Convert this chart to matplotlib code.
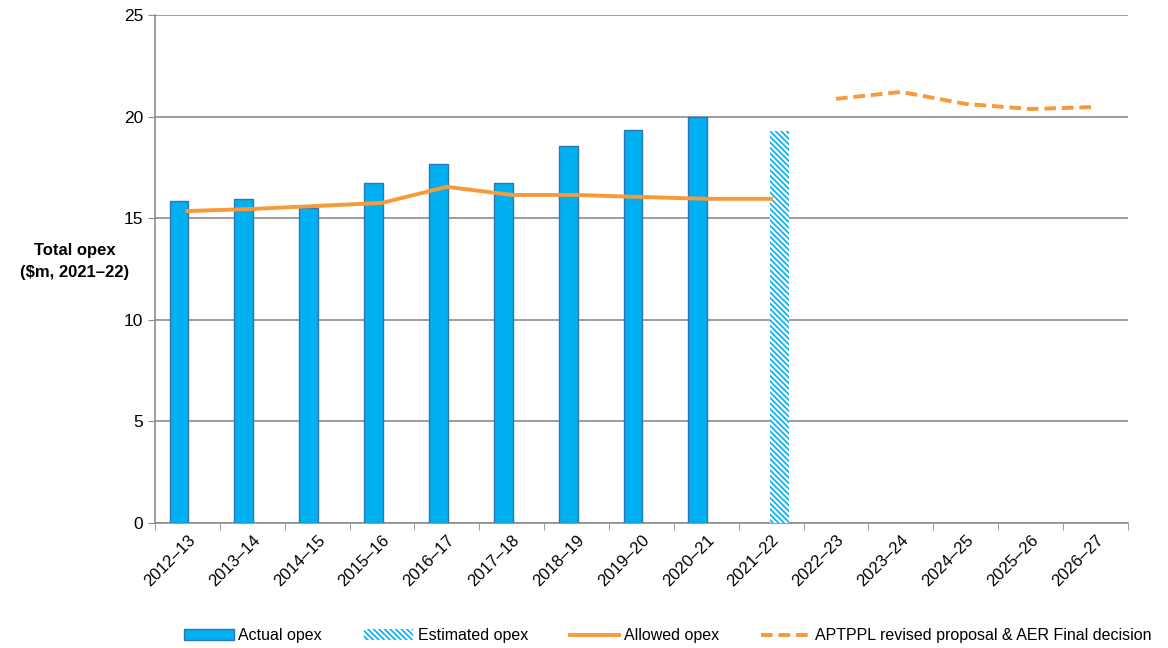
import matplotlib.pyplot as plt
import numpy as np

plt.rcParams['font.family'] = ['Liberation Sans', 'DejaVu Sans']
plt.rcParams['hatch.linewidth'] = 1.2

years = ['2012–13', '2013–14', '2014–15', '2015–16', '2016–17', '2017–18', '2018–19',
         '2019–20', '2020–21', '2021–22', '2022–23', '2023–24', '2024–25', '2025–26', '2026–27']
actual = [15.85, 15.95, 15.5, 16.73, 17.67, 16.73, 18.55, 19.34, 19.98]
estimated = [19.29]
allowed = [15.35, 15.45, 15.6, 15.75, 16.54, 16.14, 16.14, 16.04, 15.95, 15.95]
proposal = [20.87, 21.21, 20.62, 20.37, 20.47]

blue = '#00B0F0'
orange = '#F79A3A'

fig = plt.figure(figsize=(11.68, 6.48), dpi=100)
ax = fig.add_axes([0.1327, 0.193, 0.833, 0.784])

x = np.arange(len(years))
w = 0.29
b1 = ax.bar(x[:len(actual)] - 0.13, actual, w, color=blue, edgecolor='#2E75B6', linewidth=1,
            label='Actual opex', zorder=3)
b2 = ax.bar(x[9:10] + 0.13, estimated, w, color='white', edgecolor=blue, hatch='\\\\\\\\\\\\',
            linewidth=0, label='Estimated opex', zorder=3)
l1, = ax.plot(x[:len(allowed)], allowed, color=orange, lw=2.8, label='Allowed opex', zorder=4)
l2, = ax.plot(x[10:], proposal, color=orange, lw=2.8, ls=(0, (3, 1.5)),
              label='APTPPL revised proposal & AER Final decision', zorder=4)

ax.set_xlim(-0.5, len(years) - 0.5)
ax.set_ylim(0, 25)
ax.set_yticks(range(0, 26, 5))
ax.yaxis.grid(True, color='#8C8C8C', lw=1.2)
ax.set_axisbelow(True)
ax.set_xticks(x)
ax.set_xticklabels(years, rotation=45, ha='right', rotation_mode='anchor', fontsize=12)
ax.set_xticks(np.arange(-0.5, len(years)), minor=True)
ax.tick_params(axis='x', which='major', length=0, pad=7)
ax.tick_params(axis='x', which='minor', length=5, color='#8C8C8C')
ax.tick_params(axis='y', length=5, color='#8C8C8C', labelsize=12.5)
for s in ['top', 'right']:
    ax.spines[s].set_visible(False)
for s in ['left', 'bottom']:
    ax.spines[s].set_color('#8C8C8C')
    ax.spines[s].set_linewidth(1.2)

fig.text(0.064, 0.596, 'Total opex\n($m, 2021–22)', ha='center', va='center',
         fontsize=12, fontweight='bold', linespacing=1.6)

ax.legend(handles=[b1, b2, l1, l2], loc='center', bbox_to_anchor=(0.527, -0.222), ncol=4,
          frameon=False, fontsize=11.5, handlelength=3.1, columnspacing=2.6,
          handletextpad=0.3)

fig.savefig('out.png', dpi=100)
